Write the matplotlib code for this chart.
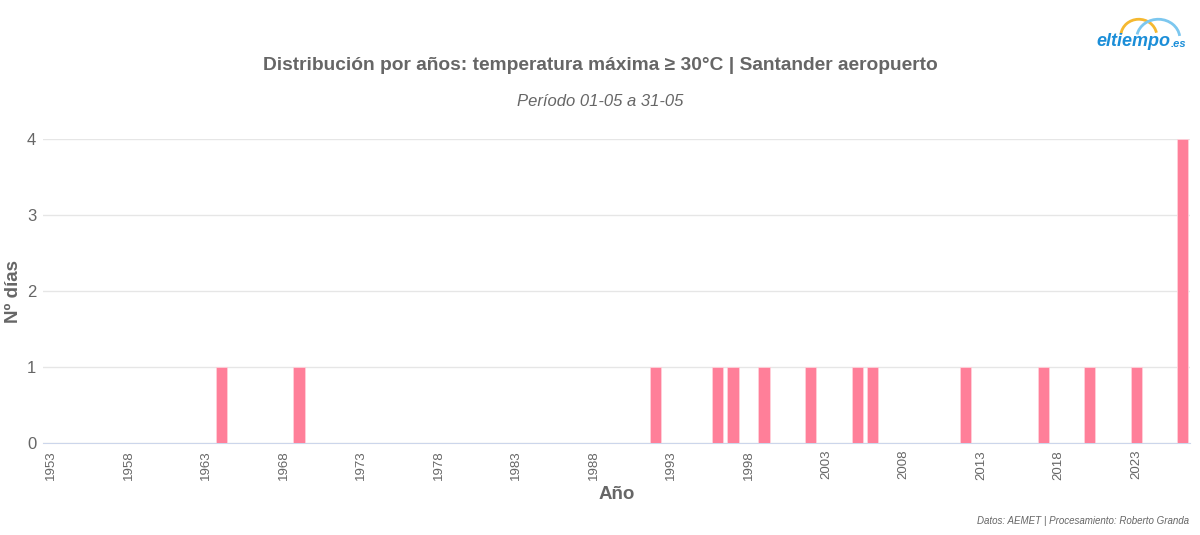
import matplotlib.pyplot as plt
from matplotlib.patches import Arc

plt.rcParams['font.family'] = ['Liberation Sans', 'DejaVu Sans']

years = list(range(1953, 2027))
hot_years = [1964, 1969, 1992, 1996, 1997, 1999, 2002, 2005, 2006,
             2012, 2017, 2020, 2023, 2026]
hot_days = [1, 1, 1, 1, 1, 1, 1, 1, 1, 1, 1, 1, 1, 4]

counts = [0] * len(years)
for y, d in zip(hot_years, hot_days):
    counts[years.index(y)] = d

grey = '#666666'

fig = plt.figure(figsize=(12, 5.35), dpi=100)
ax = fig.add_axes([0.036, 0.172, 0.956, 0.568])

x = list(range(len(years)))
ax.bar(x, counts, width=0.72, color='#ff7f99', edgecolor='#ffd0da', linewidth=0.6, zorder=3)

ax.set_xlim(-0.5, len(years) - 0.5)
ax.set_ylim(0, 4)
ax.set_yticks([0, 1, 2, 3, 4])
ax.yaxis.grid(True, color='#e6e6e6', linewidth=1, zorder=0)
ax.set_xticks(x[::5])
ax.set_xticklabels([str(y) for y in years[::5]], rotation=90, fontsize=9.5, color=grey)
ax.tick_params(axis='y', labelsize=12, colors=grey, length=0, pad=5)
ax.tick_params(axis='x', length=0, pad=5)
for s in ['top', 'right', 'left']:
    ax.spines[s].set_visible(False)
ax.spines['bottom'].set_color('#ccd6eb')

ax.set_xlabel('Año', fontsize=13.5, fontweight='bold', color=grey, labelpad=5)
fig.text(0.011, 0.456, 'Nº días', rotation=90, ha='center', va='center',
         fontsize=13.5, fontweight='bold', color=grey)

fig.text(0.5, 0.878, 'Distribución por años: temperatura máxima ≥ 30°C | Santander aeropuerto',
         ha='center', va='center', fontsize=13.8, fontweight='bold', color=grey)
fig.text(0.5, 0.811, 'Período 01-05 a 31-05', ha='center', va='center',
         fontsize=12, style='italic', color=grey)
fig.text(0.991, 0.026, 'Datos: AEMET | Procesamiento: Roberto Granda', ha='right', va='center',
         fontsize=7, style='italic', color=grey)

# logo
fig.text(0.975, 0.922, 'eltiempo', ha='right', va='center', fontsize=13,
         fontweight='bold', style='italic', color='#1b8ed8')
fig.text(0.976, 0.918, '.es', ha='left', va='center', fontsize=8,
         fontweight='bold', style='italic', color='#1b8ed8')
lax = fig.add_axes([0.928, 0.928, 0.06, 0.045])
lax.set_xlim(0, 1)
lax.set_ylim(0, 1)
lax.axis('off')
lax.add_patch(Arc((0.35, 0.1), 0.5, 1.4, theta1=30, theta2=160, color='#f5b830', linewidth=2))
lax.add_patch(Arc((0.62, 0.0), 0.6, 1.6, theta1=20, theta2=150, color='#7cc7ef', linewidth=2))

fig.savefig('out.png', dpi=100)
